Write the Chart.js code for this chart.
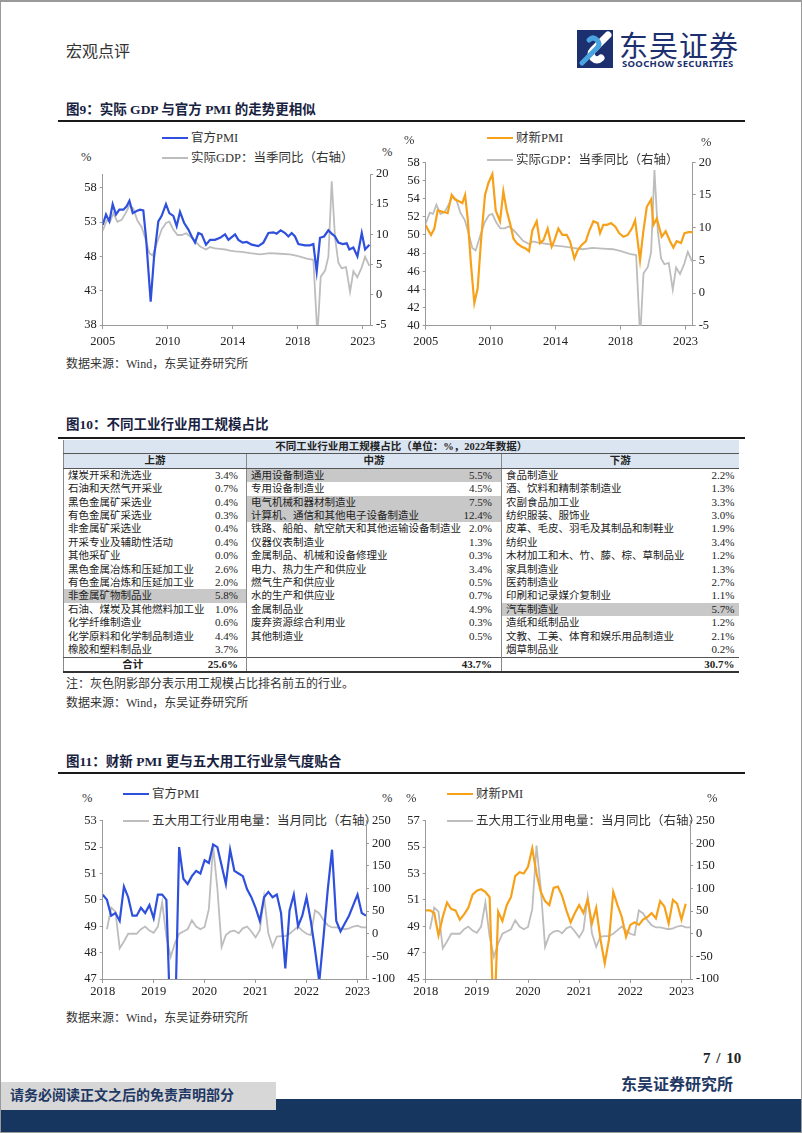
<!DOCTYPE html>
<html>
<head>
<meta charset="utf-8">
<script src="https://cdn.jsdelivr.net/npm/chart.js@4.4.0/dist/chart.umd.min.js"></script>
<style>
  body { margin: 0; background: #fff; }
  #page { position: relative; width: 802px; height: 1133px; overflow: hidden; background: #fff;
          font-family: "Liberation Serif", "Noto Sans CJK SC", serif; color: #222; }
  #frame { position: absolute; left: 0; top: 0; right: 0; bottom: 0; border: 1px solid #9a9a9a; border-top-width: 2px; pointer-events: none; z-index: 20; }
  .t { position: absolute; white-space: nowrap; line-height: 16px; }
  .fig { font-size: 13.5px; font-weight: bold; color: #18223f; }
  .rule { position: absolute; left: 58px; width: 687px; height: 2px; background: #1a1a1a; }
  .src { font-size: 12px; color: #333; }
  .leg { position: absolute; white-space: nowrap; line-height: 16px; font-size: 12.5px; color: #333; }
  .leg i { display: inline-block; width: 26px; height: 2px; vertical-align: middle; margin-right: 3px; position: relative; top: -1px; }
  .pct { font-size: 12.5px; color: #333; }
  canvas { position: absolute; }
  #tbl { position: absolute; left: 63px; top: 440px; width: 675px; border-collapse: collapse; table-layout: fixed;
         font-size: 10.5px; color: #222; border-left: 1px solid #888; }
  #tbl td { height: 13.4px; line-height: 13.4px; padding: 0; white-space: nowrap; overflow: hidden; }
  #tbl td.n { padding-left: 4px; overflow: visible; }
  #tbl td.v { text-align: right; font-size: 11px; }
  #tbl tr.head td { background: #dbe5f1; text-align: center; font-weight: bold; border-bottom: 1px solid #555; }
  #tbl td.hl { background: #c8c8c8; }
  #tbl td.div { border-right: 1px solid #888; }
  #tbl tr.total td { font-weight: bold; border-top: 1px solid #555; border-bottom: 2px solid #333; }
</style>
</head>
<body>
<div id="page">
  <div id="frame"></div>

  <div class="t" style="left:66px;top:44px;font-size:16px;color:#333;">宏观点评</div>
  <svg style="position:absolute;left:577px;top:30px" width="36" height="38" viewBox="0 0 36 38">
    <rect width="36" height="38" fill="#1c2f6e"/>
    <path d="M31 5 L16 20 Q12 24 16 28 Q20 32 24 28" stroke="#ffffff" stroke-width="7" fill="none" stroke-linecap="round"/>
    <path d="M5 33 L20 18 Q24 14 20 10 Q16 6 12 10" stroke="#4aa3df" stroke-width="5" fill="none" stroke-linecap="round"/>
  </svg>
  <div class="t" style="left:619px;top:28px;font-family:'Noto Sans CJK SC';font-size:29px;line-height:32px;color:#1c2f6e;letter-spacing:1px;">东吴证券</div>
  <div class="t" style="left:622px;top:58px;font-family:'Noto Sans',sans-serif;font-weight:bold;font-size:9.5px;line-height:11px;color:#1c2f6e;letter-spacing:0.3px;">SOOCHOW SECURITIES</div>

  <div class="t fig" style="left:66px;top:102px;">图9：实际 GDP 与官方 PMI 的走势更相似</div>
  <div class="rule" style="top:120px;"></div>

  <div class="leg" style="left:162px;top:130px;"><i style="background:#2f50dc;height:2.5px"></i>官方PMI</div>
  <div class="leg" style="left:162px;top:150px;"><i style="background:#bdbdbd"></i>实际GDP：当季同比（右轴）</div>
  <div class="t pct" style="left:81px;top:149px;">%</div>
  <div class="t pct" style="left:382px;top:144px;">%</div>
  <canvas id="c9a" width="355" height="195" style="left:55px;top:160px;width:355px;height:195px"></canvas>

  <div class="leg" style="left:487px;top:130px;"><i style="background:#f7a11a;height:2.5px"></i>财新PMI</div>
  <div class="leg" style="left:487px;top:152px;"><i style="background:#bdbdbd"></i>实际GDP：当季同比（右轴）</div>
  <div class="t pct" style="left:404px;top:132px;">%</div>
  <div class="t pct" style="left:701px;top:134px;">%</div>
  <canvas id="c9b" width="345" height="205" style="left:385px;top:150px;width:345px;height:205px"></canvas>

  <div class="t src" style="left:66px;top:356px;">数据来源：Wind，东吴证券研究所</div>

  <div class="t fig" style="left:66px;top:417px;">图10：不同工业行业用工规模占比</div>
  <div class="rule" style="top:437px;"></div>
  <table id="tbl"></table>
  <div class="t src" style="left:66px;top:676px;">注：灰色阴影部分表示用工规模占比排名前五的行业。</div>
  <div class="t src" style="left:66px;top:695px;">数据来源：Wind，东吴证券研究所</div>

  <div class="t fig" style="left:66px;top:754px;">图11：财新 PMI 更与五大用工行业景气度贴合</div>
  <div class="rule" style="top:772px;"></div>

  <div class="leg" style="left:123px;top:786px;"><i style="background:#2f50dc;height:2.5px"></i>官方PMI</div>
  <div class="leg" style="left:123px;top:813px;"><i style="background:#bdbdbd"></i>五大用工行业用电量：当月同比（右轴）</div>
  <div class="t pct" style="left:82px;top:790px;">%</div>
  <div class="t pct" style="left:382px;top:790px;">%</div>
  <canvas id="c11a" width="355" height="195" style="left:55px;top:810px;width:355px;height:195px"></canvas>

  <div class="leg" style="left:447px;top:786px;"><i style="background:#f7a11a;height:2.5px"></i>财新PMI</div>
  <div class="leg" style="left:447px;top:813px;"><i style="background:#bdbdbd"></i>五大用工行业用电量：当月同比（右轴）</div>
  <div class="t pct" style="left:406px;top:790px;">%</div>
  <div class="t pct" style="left:707px;top:790px;">%</div>
  <canvas id="c11b" width="345" height="195" style="left:385px;top:810px;width:345px;height:195px"></canvas>

  <div class="t src" style="left:66px;top:1010px;">数据来源：Wind，东吴证券研究所</div>

  <div class="t" style="left:703px;top:1050px;font-size:15px;font-weight:bold;color:#222;word-spacing:2px;">7 / 10</div>
  <div style="position:absolute;left:0;top:1099px;width:802px;height:34px;background:#17365f;"></div>
  <div class="t" style="left:0;top:1082px;width:276px;height:28px;background:#d7d7d7;"></div>
  <div class="t" style="left:10px;top:1088px;font-size:14px;font-weight:bold;color:#1f3864;">请务必阅读正文之后的免责声明部分</div>
  <div class="t" style="left:621px;top:1077px;font-size:16px;font-weight:bold;color:#1f3864;">东吴证券研究所</div>
</div>

<script>
// ---- 图9 data (x = year position on the axis) ----
const officialPmiT = [2005.00,2005.23,2005.46,2005.69,2005.92,2006.15,2006.43,2006.66,2006.85,2007.08,
  2007.35,2007.58,2007.81,2008.00,2008.32,2008.55,2008.85,2009.08,2009.38,2009.61,
  2009.89,2010.12,2010.35,2010.63,2010.93,2011.16,2011.39,2011.62,2011.85,2012.15,
  2012.43,2012.77,2013.12,2013.47,2013.70,2013.93,2014.16,2014.39,2014.69,2014.97,
  2015.31,2015.77,2016.12,2016.47,2016.81,2017.04,2017.32,2017.62,2017.85,2018.08,
  2018.31,2018.54,2019.00,2019.35,2019.58,2019.81,2020.04,2020.32,2020.62,2020.85,
  2021.08,2021.31,2021.61,2021.89,2022.07,2022.35,2022.63,2022.93,2023.16,2023.46];
const officialPmiV = [52.6,54.1,53.1,55.6,54.1,54.8,54.8,55.3,56.1,54.3,
  54.6,54.8,54.7,50.7,41.4,47.8,53.1,53.9,55.6,54.3,
  53.9,52.4,54.5,52.9,51.9,50.9,50.0,51.4,51.2,49.7,
  50.4,50.4,50.7,51.2,50.4,50.8,51.2,50.4,50.0,50.1,
  49.7,49.5,50.0,51.4,51.5,51.3,51.8,51.4,50.9,51.4,
  50.9,49.8,49.6,49.6,49.8,45.8,50.7,50.9,51.8,51.3,
  50.9,50.0,49.8,49.9,49.0,49.3,48.0,51.4,49.0,49.7];

const caixinPmiT = [2005.00,2005.18,2005.37,2005.60,2005.83,2006.06,2006.29,2006.52,2006.80,2007.03,
  2007.31,2007.54,2007.73,2007.91,2008.14,2008.37,2008.60,2008.83,2009.11,2009.34,
  2009.62,2009.85,2010.15,2010.38,2010.61,2010.84,2011.08,2011.31,2011.65,2011.93,
  2012.16,2012.39,2012.69,2012.92,2013.15,2013.45,2013.73,2013.92,2014.19,2014.47,
  2014.77,2015.00,2015.30,2015.53,2015.81,2016.09,2016.32,2016.62,2016.92,2017.08,
  2017.31,2017.54,2017.84,2018.14,2018.40,2018.70,2019.00,2019.28,2019.51,2019.69,
  2019.85,2020.08,2020.32,2020.62,2020.78,2021.01,2021.17,2021.35,2021.63,2021.93,
  2022.16,2022.39,2022.69,2022.93,2023.20,2023.50];
const caixinPmiV = [51.1,50.5,50.0,50.7,52.7,52.6,52.5,52.4,54.4,53.9,
  53.7,53.5,54.4,51.8,46.7,42.5,44.1,49.3,54.4,55.7,
  56.7,52.7,51.5,54.8,52.7,51.3,49.6,49.1,48.7,48.5,
  48.2,50.5,51.5,49.1,49.4,50.7,48.7,49.4,50.7,50.0,
  50.0,49.3,47.4,48.3,48.9,49.3,50.4,51.5,51.3,50.2,
  51.1,51.1,51.3,50.9,50.2,49.8,50.0,50.7,51.6,49.3,
  47.2,50.4,53.1,53.9,51.1,51.8,50.9,49.8,50.4,49.3,
  48.6,49.3,49.1,50.2,50.3,50.3];

const gdpT = [2005.00,2005.28,2005.51,2005.74,2006.02,2006.31,2006.61,2006.85,2007.12,2007.40,
  2007.70,2007.93,2008.23,2008.46,2008.74,2009.08,2009.38,2009.61,2009.89,2010.17,
  2010.47,2010.77,2011.09,2011.39,2011.74,2012.15,2012.43,2012.77,2013.12,2013.47,
  2013.81,2014.16,2014.62,2015.20,2015.89,2016.58,2017.27,2017.97,2018.54,2019.12,
  2019.58,2019.86,2020.09,2020.39,2020.62,2020.85,2021.08,2021.31,2021.54,2021.84,
  2022.12,2022.35,2022.62,2022.92,2023.16,2023.46];
const gdpV = [10.6,12.3,12.1,13.5,12.1,12.4,13.6,14.8,14.3,12.3,
  11.2,9.5,6.9,6.5,8.5,10.8,11.9,12.1,10.8,9.9,
  9.9,10.2,9.6,8.9,8.0,7.5,7.9,7.7,7.6,7.5,
  7.3,7.2,7.1,6.9,6.7,6.9,6.8,6.7,6.4,6.0,
  5.8,-6.8,3.0,4.0,6.3,18.8,9.5,5.3,4.4,4.6,
  0.5,3.9,2.9,4.5,6.3,4.8];

const yearTickPos9 = [2005, 2009.5, 2014, 2018.5, 2023];
const yearTickLabels9 = ['2005', '2010', '2014', '2018', '2023'];
const pmiTicks9a = [38, 43, 48, 53, 58];
const pmiTicks9b = [40, 42, 44, 46, 48, 50, 52, 54, 56, 58];
const gdpTicks = [-5, 0, 5, 10, 15, 20];

// ---- 图11 data (monthly, 2018-01 .. 2023-03) ----
const officialPmi11 = [50.2,50.0,49.4,49.5,49.2,50.5,50.1,49.4,49.4,49.7,
  49.5,49.8,49.3,50.2,50.2,50.0,45.0,45.0,52.0,50.8,
  50.6,50.9,51.1,51.0,51.5,51.4,52.1,52.0,51.3,50.6,
  51.9,51.1,51.0,50.9,50.4,50.1,49.7,49.2,50.1,50.3,
  50.1,50.2,49.5,47.4,49.6,50.2,49.0,49.4,50.1,49.2,
  48.1,46.9,48.6,50.4,51.9,49.2,48.8,49.1,49.4,49.8,
  50.2,49.5,49.4];
const caixinPmi11 = [50.2,50.2,50.0,48.3,49.7,50.8,50.3,50.2,49.5,49.9,
  50.4,51.4,51.7,51.8,51.6,51.2,41.0,50.1,49.4,50.6,
  51.2,52.8,53.1,53.0,53.5,54.9,53.0,51.6,50.9,50.6,
  51.9,52.0,51.3,50.2,49.3,50.0,50.6,50.0,51.0,49.2,
  50.4,48.0,46.2,48.0,51.6,50.6,49.7,48.2,49.1,49.3,
  49.1,49.5,49.7,50.0,49.6,50.9,50.5,49.2,51.0,50.7,
  49.5,50.7];
const powerYoy11 = [null,10,58,49,-32,-17,0,0,0,10,
  16,7,2,16,69,-6,-51,-21,0,5,
  10,30,16,10,15,55,195,100,-29,-3,
  5,7,1,12,16,5,-8,8,82,1,
  -29,-6,-5,-5,0,8,16,7,0,-3,
  52,45,30,19,14,14,12,10,12,16,
  18,14,14];
const monthTickPos11 = [0, 12, 24, 36, 48, 60];
const yearTickLabels11 = ['2018', '2019', '2020', '2021', '2022', '2023'];
const pmiTicks11a = [47, 48, 49, 50, 51, 52, 53];
const pmiTicks11b = [45, 47, 49, 51, 53, 55, 57];
const powerTicks = [-100, -50, 0, 50, 100, 150, 200, 250];

// ---- 图10 table data ----
const upNames = ['煤炭开采和洗选业','石油和天然气开采业','黑色金属矿采选业','有色金属矿采选业','非金属矿采选业',
  '开采专业及辅助性活动','其他采矿业','黑色金属冶炼和压延加工业','有色金属冶炼和压延加工业','非金属矿物制品业',
  '石油、煤炭及其他燃料加工业','化学纤维制造业','化学原料和化学制品制造业','橡胶和塑料制品业'];
const upVals = [3.4,0.7,0.4,0.3,0.4,0.4,0.0,2.6,2.0,5.8,1.0,0.6,4.4,3.7];
const midNames = ['通用设备制造业','专用设备制造业','电气机械和器材制造业','计算机、通信和其他电子设备制造业',
  '铁路、船舶、航空航天和其他运输设备制造业','仪器仪表制造业','金属制品、机械和设备修理业','电力、热力生产和供应业',
  '燃气生产和供应业','水的生产和供应业','金属制品业','废弃资源综合利用业','其他制造业'];
const midVals = [5.5,4.5,7.5,12.4,2.0,1.3,0.3,3.4,0.5,0.7,4.9,0.3,0.5];
const downNames = ['食品制造业','酒、饮料和精制茶制造业','农副食品加工业','纺织服装、服饰业','皮革、毛皮、羽毛及其制品和制鞋业',
  '纺织业','木材加工和木、竹、藤、棕、草制品业','家具制造业','医药制造业','印刷和记录媒介复制业',
  '汽车制造业','造纸和纸制品业','文教、工美、体育和娱乐用品制造业','烟草制品业'];
const downVals = [2.2,1.3,3.3,3.0,1.9,3.4,1.2,1.3,2.7,1.1,5.7,1.2,2.1,0.2];
const topFive = ['通用设备制造业','电气机械和器材制造业','计算机、通信和其他电子设备制造业','非金属矿物制品业','汽车制造业'];
const groupTitles = ['上游', '中游', '下游'];
const groupTotals = ['25.6%', '43.7%', '30.7%'];

// build the table
function buildTable() {
  const tbl = document.getElementById('tbl');
  let html = '<colgroup><col style="width:138px"><col style="width:45px"><col style="width:209px">' +
             '<col style="width:46px"><col style="width:189px"><col style="width:48px"></colgroup>';
  html += '<tr class="head"><td colspan="6">不同工业行业用工规模占比（单位：%，2022年数据）</td></tr>';
  html += '<tr class="head">' + groupTitles.map((g, i) =>
    `<td colspan="2" class="${i < 2 ? 'div' : ''}">${g}</td>`).join('') + '</tr>';
  const groups = [[upNames, upVals], [midNames, midVals], [downNames, downVals]];
  const pads = [8, 9, 4];
  for (let r = 0; r < 14; r++) {
    html += '<tr>';
    groups.forEach(([names, vals], g) => {
      const name = names[r];
      const hl = name && topFive.includes(name) ? ' hl' : '';
      const dv = g < 2 ? ' div' : '';
      html += `<td class="n${hl}">${name || ''}</td>`;
      html += `<td class="v${hl}${dv}" style="padding-right:${pads[g]}px">${name ? vals[r].toFixed(1) + '%' : ''}</td>`;
    });
    html += '</tr>';
  }
  html += '<tr class="total"><td style="text-align:center">合计</td>' +
    `<td class="v div" style="padding-right:8px">${groupTotals[0]}</td><td></td>` +
    `<td class="v div" style="padding-right:9px">${groupTotals[1]}</td><td></td>` +
    `<td class="v" style="padding-right:4px">${groupTotals[2]}</td></tr>`;
  tbl.innerHTML = html;
}
buildTable();

// ---- charts ----
const BLUE = '#2f50dc', ORANGE = '#f7a11a', GREY = '#bdbdbd', AXIS = '#9a9a9a';
const tickFont = { family: 'Liberation Serif', size: 12.5 };

function pts(xs, ys) { return ys.map((y, i) => ({ x: xs[i], y: y })); }

function fixedTicks(values) {
  return scale => { scale.ticks = values.map(v => ({ value: v })); };
}

function makeChart(id, geo, datasets, xCfg, leftCfg, rightCfg) {
  const axisBase = {
    grid: { drawOnChartArea: false, tickLength: 4, color: AXIS },
    border: { display: true, color: AXIS, width: 1 },
  };
  return new Chart(document.getElementById(id), {
    type: 'line',
    data: { datasets: datasets },
    options: {
      responsive: false,
      animation: false,
      layout: { padding: { top: geo.padTop, left: 0, right: 0, bottom: 0 } },
      plugins: { legend: { display: false }, tooltip: { enabled: false } },
      elements: { point: { radius: 0 }, line: { tension: 0 } },
      scales: {
        x: Object.assign({}, axisBase, {
          type: 'linear', min: xCfg.min, max: xCfg.max,
          afterBuildTicks: fixedTicks(xCfg.pos),
          afterFit: s => { s.height = geo.xH; },
          ticks: { autoSkip: false, maxRotation: 0, padding: geo.xPad, font: tickFont, color: '#222',
                   callback: (v, i) => xCfg.labels[i] }
        }),
        y: Object.assign({}, axisBase, {
          position: 'left', min: leftCfg.min, max: leftCfg.max,
          afterBuildTicks: fixedTicks(leftCfg.ticks),
          afterFit: s => { s.width = geo.yW; },
          grid: { drawOnChartArea: false, tickLength: 3, color: AXIS },
          ticks: { padding: 3, font: tickFont, color: '#222', callback: v => String(v) }
        }),
        y1: Object.assign({}, axisBase, {
          position: 'right', min: rightCfg.min, max: rightCfg.max,
          afterBuildTicks: fixedTicks(rightCfg.ticks),
          afterFit: s => { s.width = geo.y1W; },
          grid: { drawOnChartArea: false, tickLength: 3, color: AXIS },
          ticks: { padding: 3, font: tickFont, color: '#222', callback: v => String(v) }
        })
      }
    }
  });
}

const gdpSet = () => ({ data: pts(gdpT, gdpV), borderColor: GREY, borderWidth: 1.8, yAxisID: 'y1' });
const x9 = { min: 2005, max: 2023.5, pos: yearTickPos9, labels: yearTickLabels9 };
const months = officialPmi11.map((v, i) => i);
const x11 = { min: 0, max: 62, pos: monthTickPos11, labels: yearTickLabels11 };

makeChart('c9a', { padTop: 14, yW: 47.7, y1W: 40, xH: 30, xPad: 5 },
  [{ data: pts(officialPmiT, officialPmiV), borderColor: BLUE, borderWidth: 2.2, yAxisID: 'y' }, gdpSet()],
  x9, { min: 38, max: 60, ticks: pmiTicks9a }, { min: -5, max: 20, ticks: gdpTicks });

makeChart('c9b', { padTop: 12.3, yW: 40.7, y1W: 37.3, xH: 29.3, xPad: 5 },
  [{ data: pts(caixinPmiT, caixinPmiV), borderColor: ORANGE, borderWidth: 2.2, yAxisID: 'y' }, gdpSet()],
  x9, { min: 40, max: 58, ticks: pmiTicks9b }, { min: -5, max: 20, ticks: gdpTicks });

makeChart('c11a', { padTop: 10.7, yW: 47.7, y1W: 44, xH: 26, xPad: 1 },
  [{ data: pts(months, officialPmi11), borderColor: BLUE, borderWidth: 2.2, yAxisID: 'y' },
   { data: pts(months, powerYoy11), borderColor: GREY, borderWidth: 1.8, yAxisID: 'y1' }],
  x11, { min: 47, max: 53, ticks: pmiTicks11a }, { min: -100, max: 250, ticks: powerTicks });

makeChart('c11b', { padTop: 10.7, yW: 40.7, y1W: 40, xH: 26, xPad: 1 },
  [{ data: pts(months.slice(0, caixinPmi11.length), caixinPmi11), borderColor: ORANGE, borderWidth: 2.2, yAxisID: 'y' },
   { data: pts(months, powerYoy11), borderColor: GREY, borderWidth: 1.8, yAxisID: 'y1' }],
  x11, { min: 45, max: 57, ticks: pmiTicks11b }, { min: -100, max: 250, ticks: powerTicks });
</script>
</body>
</html>
